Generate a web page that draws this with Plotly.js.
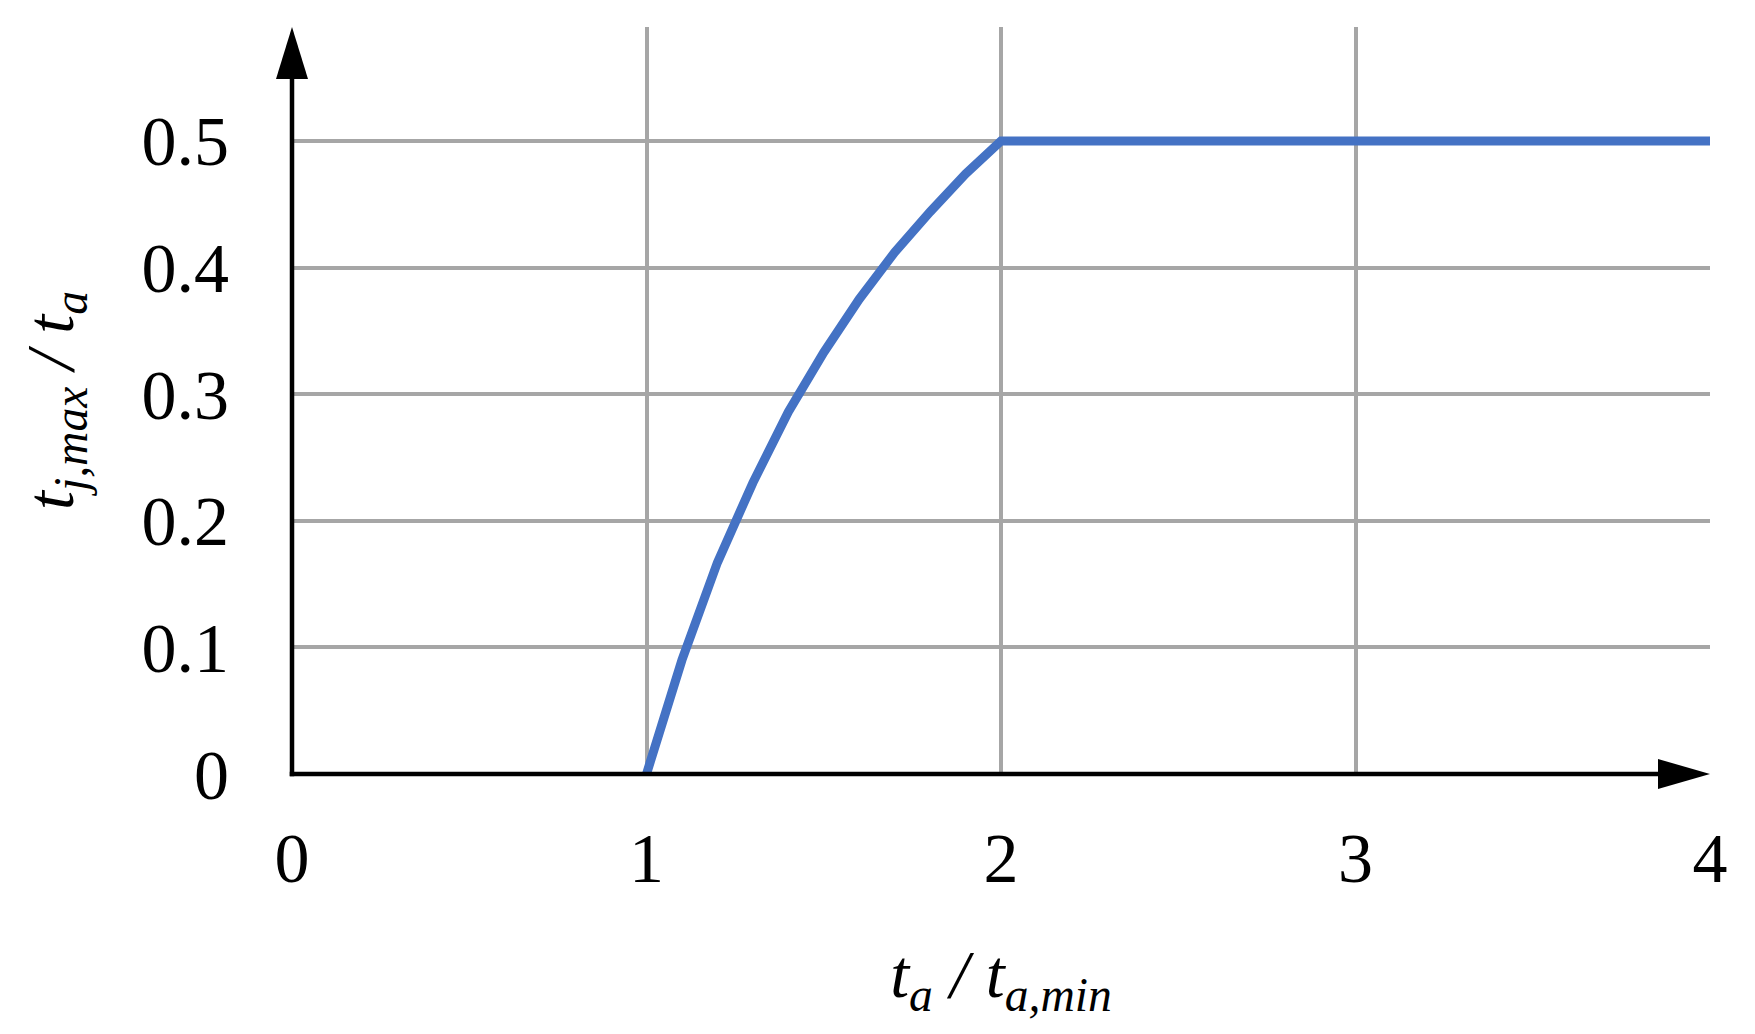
<!DOCTYPE html>
<html>
<head>
<meta charset="utf-8">
<script src="https://cdn.plot.ly/plotly-3.0.1.min.js"></script>
<style>
  html, body { margin: 0; padding: 0; background: #ffffff; }
  #chart { width: 1755px; height: 1034px; }
</style>
</head>
<body>
<div id="chart"></div>
<script>
// Data
const ratioTa = [1, 1.1, 1.2, 1.3, 1.4, 1.5, 1.6, 1.7, 1.8, 1.9, 2, 4];
const ratioTj = [0, 0.09, 0.167, 0.23, 0.286, 0.333, 0.375, 0.412, 0.444, 0.474, 0.5, 0.5];

const xTickVals = [0, 1, 2, 3, 4];
const xTickText = ['0', '1', '2', '3', '4'];
const yTickVals = [0, 0.1, 0.2, 0.3, 0.4, 0.5];
const yTickText = ['0', '0.1', '0.2', '0.3', '0.4', '0.5'];

const serif = 'Liberation Serif, Times New Roman, serif';
const gridColor = '#a6a6a6';

const trace = {
  x: ratioTa,
  y: ratioTj,
  type: 'scatter',
  mode: 'lines',
  line: { color: '#4472c4', width: 9 },
  hoverinfo: 'skip',
  showlegend: false
};

const plotW = 1755 - 292 - 45;
const plotH = 1034 - 27 - 260;

const layout = {
  width: 1755,
  height: 1034,
  margin: { l: 292, r: 45, t: 27, b: 260 },
  paper_bgcolor: '#ffffff',
  plot_bgcolor: '#ffffff',
  showlegend: false,
  font: { family: serif, color: '#000000' },
  xaxis: {
    range: [0, 4],
    tickvals: xTickVals,
    ticktext: xTickText,
    showgrid: true,
    gridcolor: gridColor,
    gridwidth: 4,
    zeroline: false,
    showline: false,
    ticks: '',
    ticklabelstandoff: 37,
    tickfont: { family: serif, size: 70, color: '#000000' },
    title: {
      text: '<i>t</i><sub><i>a</i></sub><i> / t</i><sub><i>a,min</i></sub>',
      font: { family: serif, size: 68, color: '#000000' },
      standoff: 53
    },
    fixedrange: true
  },
  yaxis: {
    range: [0, 0.59],
    tickvals: yTickVals,
    ticktext: yTickText,
    showgrid: true,
    gridcolor: gridColor,
    gridwidth: 4,
    zeroline: false,
    showline: false,
    ticks: '',
    ticklabelstandoff: 62,
    tickfont: { family: serif, size: 70, color: '#000000' },
    title: {
      text: '<i>t</i><sub><i>j,max</i></sub><i> / t</i><sub><i>a</i></sub>',
      font: { family: serif, size: 68, color: '#000000' },
      standoff: 45
    },
    fixedrange: true
  },
  shapes: [
    // y axis line
    {
      type: 'line', xref: 'paper', yref: 'paper', layer: 'above',
      x0: 0, x1: 0, y0: -2.25 / plotH, y1: 1 - 45 / plotH,
      line: { color: '#000000', width: 4.5 }
    },
    // x axis line
    {
      type: 'line', xref: 'paper', yref: 'paper', layer: 'above',
      x0: -2.25 / plotW, x1: 1 - 45 / plotW, y0: 0, y1: 0,
      line: { color: '#000000', width: 4.5 }
    },
    // y axis arrow head
    {
      type: 'path', xref: 'paper', yref: 'paper', layer: 'above',
      xsizemode: 'pixel', ysizemode: 'pixel', xanchor: 0, yanchor: 1,
      path: 'M -16 -52 L 0 0 L 16 -52 Z',
      fillcolor: '#000000', line: { color: '#000000', width: 0 }
    },
    // x axis arrow head
    {
      type: 'path', xref: 'paper', yref: 'paper', layer: 'above',
      xsizemode: 'pixel', ysizemode: 'pixel', xanchor: 1, yanchor: 0,
      path: 'M -52 -15 L 0 0 L -52 15 Z',
      fillcolor: '#000000', line: { color: '#000000', width: 0 }
    }
  ]
};

Plotly.newPlot('chart', [trace], layout, { displayModeBar: false });
</script>
</body>
</html>
